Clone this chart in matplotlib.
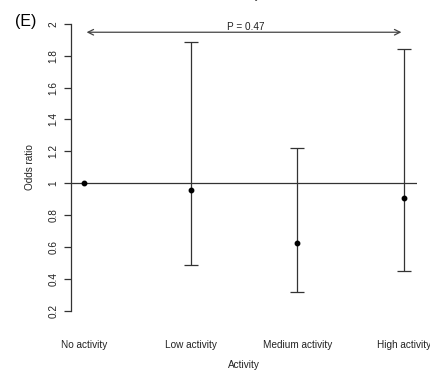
import matplotlib
matplotlib.use('Agg')
from matplotlib import pyplot as plt

# data
groups = ['No activity', 'Low activity', 'Medium activity', 'High activity']
odds = [1.0, 0.956, 0.623, 0.908]
lower = [1.0, 0.483, 0.317, 0.449]
upper = [1.0, 1.889, 1.224, 1.841]
yticks = [0.2, 0.4, 0.6, 0.8, 1.0, 1.2, 1.4, 1.6, 1.8, 2.0]
ytick_labels = ['0.2', '0.4', '0.6', '0.8', '1', '1.2', '1.4', '1.6', '1.8', '2']
p_text = 'P = 0.47'

plt.rcParams['font.family'] = ['Liberation Sans', 'DejaVu Sans']

W, H = 430, 371
fig = plt.figure(figsize=(W / 100, H / 100), dpi=100)
# plot region in pixels: x 71..417, y 12.5..322
ax = fig.add_axes([71 / W, 1 - 322 / H, (417 - 71) / W, (322 - 12.5) / H])

x = list(range(1, len(groups) + 1))
ax.set_xlim(0.88, 4.12)
ax.set_ylim(0.128, 2.072)

ax.axhline(1, color='#333333', lw=0.9)

for xi, lo, hi in zip(x, lower, upper):
    if hi > lo:
        ax.errorbar([xi], [(lo + hi) / 2], yerr=[[(hi - lo) / 2], [(hi - lo) / 2]],
                    fmt='none', ecolor='#333333', elinewidth=0.9, capsize=5, capthick=0.9)
ax.plot(x, odds, 'o', color='black', ms=3.2, zorder=5)

# arrow spanning all groups with p-value
ax.annotate('', xy=(x[0], 1.948), xytext=(x[-1], 1.948),
            arrowprops=dict(arrowstyle='<->', color='#444444', lw=0.9,
                            mutation_scale=10))
ax.text((x[0] + x[-1]) / 2 + 0.02, 1.952, p_text, ha='center', va='bottom',
        fontsize=7.2, color='#222222')

for s in ['top', 'right', 'bottom']:
    ax.spines[s].set_visible(False)
ax.spines['left'].set_bounds(0.2, 2.0)
ax.spines['left'].set_color('#333333')
ax.spines['left'].set_linewidth(0.9)

ax.set_yticks(yticks)
ax.set_yticklabels(ytick_labels, rotation=90, va='center', fontsize=7.2, color='#222222')
ax.tick_params(axis='y', length=5, width=0.9, color='#333333', pad=4)

ax.set_xticks(x)
ax.set_xticklabels(groups, fontsize=7.2, color='#222222')
ax.tick_params(axis='x', length=0, pad=13)

ax.set_xlabel('Activity', fontsize=7.2, color='#222222', labelpad=7)
ax.set_ylabel('Odds ratio', fontsize=7.2, color='#222222', labelpad=10)

fig.text(15 / W, 1 - 26 / H, '(E)', fontsize=11.5, ha='left', va='baseline')
# title of the panel, cut off by the top edge in the original
fig.text(245 / W, 1 + 0.5 / H, 'Activity', fontsize=7.2, ha='center', va='baseline',
         color='#222222')

fig.savefig('out.png', dpi=100)
